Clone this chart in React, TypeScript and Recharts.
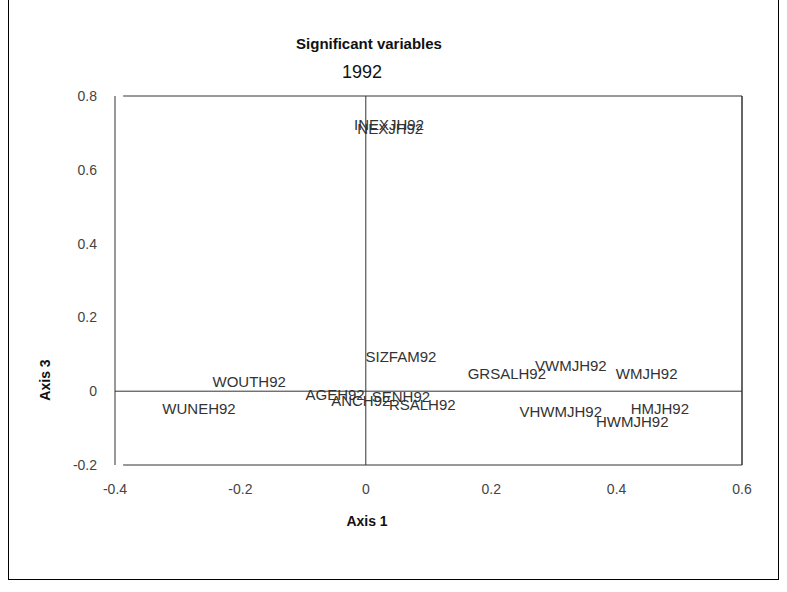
import { ScatterChart, Scatter, XAxis, YAxis, ReferenceLine } from 'recharts'

const varNames = [
    'INEXJH92', 'NEXJH92', 'SIZFAM92', 'WOUTH92', 'WUNEH92', 'AGEH92', 'ANCH92', 'SENH92',
    'RSALH92', 'GRSALH92', 'VWMJH92', 'WMJH92', 'VHWMJH92', 'HMJH92', 'HWMJH92',
]
const axis1 = [0.037, 0.039, 0.056, -0.186, -0.266, -0.049, -0.008, 0.056, 0.09, 0.225, 0.327, 0.448, 0.311, 0.469, 0.425]
const axis3 = [0.724, 0.713, 0.093, 0.025, -0.046, -0.008, -0.024, -0.014, -0.037, 0.049, 0.071, 0.049, -0.056, -0.048, -0.083]

const xTicks = [-0.4, -0.2, 0, 0.2, 0.4, 0.6]
const yTicks = [-0.2, 0, 0.2, 0.4, 0.6, 0.8]

const points = varNames.map((name, i) => ({ name, x: axis1[i], y: axis3[i] }))

const font = '"Liberation Sans", Arial, sans-serif'
const lineColor = '#333'

function VarLabel(props: any) {
    const { cx, cy, payload } = props
    return (
        <text x={cx} y={cy} textAnchor="middle" dominantBaseline="central"
            fontSize={15} fill="#333" fontFamily={font}>
            {payload.name}
        </text>
    )
}

export default function App() {
    return (
        <div style={{ position: 'absolute', left: 0, top: 0, width: 787, height: 592, background: '#fff' }}>
            <div style={{
                position: 'absolute', left: 8, top: -1, width: 769, height: 580,
                borderLeft: '1px solid #000', borderRight: '1px solid #000', borderBottom: '1px solid #000',
            }} />
            <div style={{ position: 'absolute', left: 0, top: 0 }}>
                <ScatterChart width={787} height={592} margin={{ top: 96, right: 45, bottom: 97, left: 75 }}>
                    <XAxis type="number" dataKey="x" domain={[-0.4, 0.6]} ticks={xTicks} height={30}
                        axisLine={false} tickLine={false} tickSize={0} tickMargin={19}
                        tick={{ fill: '#444', fontSize: 14, fontFamily: font }}
                        tickFormatter={(v: number) => String(v)} />
                    <YAxis type="number" dataKey="y" domain={[-0.2, 0.8]} ticks={yTicks} width={40}
                        axisLine={{ stroke: lineColor }} tickLine={false} tickSize={0} tickMargin={18}
                        tick={{ fill: '#444', fontSize: 14, fontFamily: font }}
                        tickFormatter={(v: number) => String(v)} />
                    <ReferenceLine segment={[{ x: -0.387, y: 0.8 }, { x: 0.6, y: 0.8 }]} stroke={lineColor} />
                    <ReferenceLine segment={[{ x: -0.387, y: -0.2 }, { x: 0.6, y: -0.2 }]} stroke={lineColor} />
                    <ReferenceLine x={0.6} stroke={lineColor} strokeWidth={1.5} />
                    <ReferenceLine y={0} stroke={lineColor} />
                    <ReferenceLine x={0} stroke={lineColor} />
                    <Scatter data={points} shape={VarLabel} isAnimationActive={false} />
                </ScatterChart>
            </div>
            <svg width={787} height={592} style={{ position: 'absolute', left: 0, top: 0, pointerEvents: 'none' }}>
                <text x={369} y={43} textAnchor="middle" dominantBaseline="central" fontSize={15}
                    fontWeight="bold" fontFamily={font} fill="#111">Significant variables</text>
                <text x={362} y={72} textAnchor="middle" dominantBaseline="central" fontSize={18}
                    fontFamily={font} fill="#111">1992</text>
                <text x={367} y={521} textAnchor="middle" dominantBaseline="central" fontSize={14}
                    fontWeight="bold" fontFamily={font} fill="#111">Axis 1</text>
                <text x={45} y={380} textAnchor="middle" dominantBaseline="central" fontSize={14}
                    fontWeight="bold" fontFamily={font} fill="#111" transform="rotate(-90 45 380)">Axis 3</text>
            </svg>
        </div>
    )
}
